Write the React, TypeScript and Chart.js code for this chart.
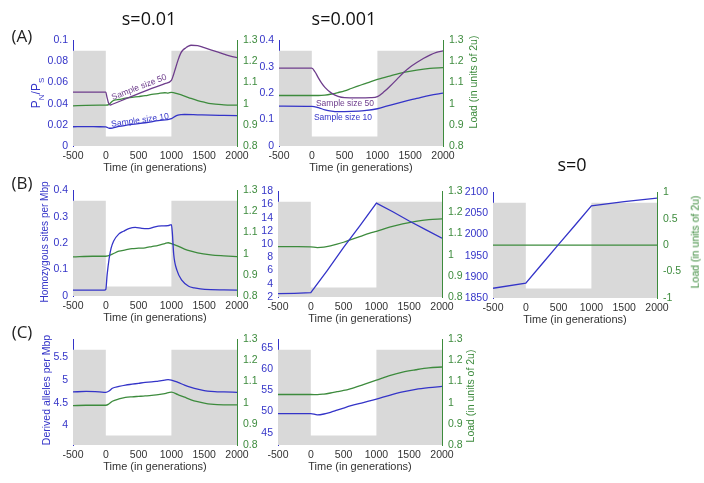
import React, { useEffect, useRef } from 'react';
import { Chart, registerables } from 'chart.js';

Chart.register(...registerables);

// ---------------- data ----------------
const timeTicks = [-500, 0, 500, 1000, 1500, 2000];
// schematic population size (grey shading): high before 0 and after 1000, bottleneck between
const popShadeT = [-500, 0, 1000, 2000];
const popShadeV = [0.9, 0.09, 0.9, 0.9];

// (A) s=0.01  P_N/P_S
const a1LeftTicks = [0, 0.02, 0.04, 0.06, 0.08, 0.1];
const a1PurpleT = [-500, 0, 15, 40, 70, 100, 300, 500, 700, 900, 1000, 1030, 1064, 1100, 1141, 1180, 1218, 1260, 1300, 1400, 1500, 1600, 1700, 1800, 1900, 2000];
const a1PurpleV = [0.051, 0.051, 0.047, 0.041, 0.0388, 0.0395, 0.0445, 0.0495, 0.0545, 0.059, 0.062, 0.067, 0.0738, 0.081, 0.0876, 0.091, 0.0928, 0.0945, 0.0953, 0.095, 0.093, 0.091, 0.089, 0.087, 0.085, 0.0835];
const a1BlueT = [-500, -300, -100, 0, 50, 100, 200, 400, 600, 800, 1000, 1050, 1100, 1150, 1200, 1400, 1600, 1800, 2000];
const a1BlueV = [0.0182, 0.0183, 0.0182, 0.0181, 0.0168, 0.017, 0.0185, 0.0205, 0.022, 0.024, 0.0258, 0.0278, 0.0292, 0.0297, 0.0298, 0.0295, 0.0292, 0.029, 0.0288];
const a1GreenT = [-500, -300, -100, 0, 50, 100, 150, 200, 300, 400, 500, 600, 700, 800, 900, 950, 1000, 1100, 1200, 1300, 1400, 1500, 1600, 1800, 2000];
const a1GreenV = [0.99, 0.992, 0.993, 0.993, 0.997, 1.012, 1.018, 1.02, 1.026, 1.03, 1.034, 1.038, 1.044, 1.048, 1.052, 1.05, 1.054, 1.046, 1.036, 1.025, 1.015, 1.007, 1.0, 0.995, 0.993];

// (A) s=0.001
const a2LeftTicks = [0, 0.1, 0.2, 0.3, 0.4];
const a2PurpleT = [-500, 0, 50, 100, 150, 200, 300, 400, 500, 700, 900, 1000, 1100, 1200, 1300, 1400, 1500, 1600, 1700, 1800, 1900, 2000];
const a2PurpleV = [0.295, 0.295, 0.28, 0.258, 0.238, 0.222, 0.2, 0.188, 0.183, 0.182, 0.183, 0.187, 0.205, 0.228, 0.253, 0.278, 0.299, 0.316, 0.331, 0.344, 0.354, 0.36];
const a2BlueT = [-500, 0, 100, 200, 300, 400, 600, 800, 1000, 1200, 1400, 1600, 1800, 2000];
const a2BlueV = [0.151, 0.15, 0.145, 0.137, 0.132, 0.13, 0.131, 0.134, 0.141, 0.155, 0.168, 0.18, 0.192, 0.2];
const a2GreenT = [-500, 0, 100, 200, 300, 400, 500, 600, 700, 800, 900, 1000, 1200, 1400, 1600, 1800, 2000];
const a2GreenV = [1.039, 1.039, 1.039, 1.041, 1.046, 1.053, 1.061, 1.072, 1.083, 1.094, 1.105, 1.115, 1.132, 1.148, 1.159, 1.167, 1.171];

// (B) homozygous sites per Mbp
const b1LeftTicks = [0, 0.1, 0.2, 0.3, 0.4];
const b1BlueT = [-500, -20, 0, 20, 50, 80, 120, 200, 270, 350, 450, 550, 650, 750, 850, 950, 1000, 1014, 1035, 1085, 1161, 1263, 1350, 1441, 1600, 1800, 2000];
const b1BlueV = [0.022, 0.022, 0.025, 0.08, 0.14, 0.18, 0.208, 0.235, 0.245, 0.255, 0.26, 0.256, 0.255, 0.262, 0.265, 0.266, 0.27, 0.24, 0.158, 0.097, 0.059, 0.037, 0.031, 0.027, 0.024, 0.023, 0.022];
const b1GreenT = [-500, -200, 0, 100, 200, 300, 400, 500, 600, 700, 800, 900, 950, 1000, 1100, 1200, 1300, 1400, 1600, 1800, 2000];
const b1GreenV = [0.985, 0.988, 0.988, 0.998, 1.012, 1.018, 1.024, 1.026, 1.028, 1.034, 1.04, 1.048, 1.052, 1.048, 1.036, 1.022, 1.012, 1.004, 0.995, 0.99, 0.986];

const b2LeftTicks = [2, 4, 6, 8, 10, 12, 14, 16, 18];
const b2BlueT = [-500, -250, 0, 250, 500, 750, 1000, 1250, 1500, 1750, 2000];
const b2BlueV = [2.5, 2.55, 2.65, 6.0, 9.5, 12.8, 16.2, 14.9, 13.5, 12.2, 10.9];
const b2GreenT = [-500, -200, 0, 100, 200, 300, 400, 500, 600, 700, 800, 900, 1000, 1200, 1400, 1600, 1800, 2000];
const b2GreenV = [1.038, 1.038, 1.037, 1.034, 1.036, 1.042, 1.05, 1.059, 1.07, 1.081, 1.092, 1.102, 1.111, 1.13, 1.146, 1.158, 1.166, 1.17];

const b3LeftTicks = [1850, 1900, 1950, 2000, 2050, 2100];
const b3RightTicks = [-1, -0.5, 0, 0.5, 1];
const b3BlueT = [-500, 0, 250, 500, 750, 1000, 1500, 2000];
const b3BlueV = [1873, 1885, 1931, 1977, 2022, 2068, 2078, 2086];
const b3GreenT = [-500, 2000];
const b3GreenV = [0, 0];

// (C) derived alleles per Mbp
const c1LeftTicks = [4, 4.5, 5, 5.5];
const c1BlueT = [-500, -300, -100, 0, 50, 100, 200, 300, 400, 500, 600, 700, 800, 900, 950, 1000, 1100, 1200, 1300, 1400, 1500, 1600, 1700, 1800, 2000];
const c1BlueV = [4.74, 4.75, 4.74, 4.73, 4.76, 4.82, 4.86, 4.89, 4.91, 4.93, 4.95, 4.96, 4.98, 5.0, 5.01, 5.0, 4.95, 4.89, 4.84, 4.8, 4.77, 4.75, 4.74, 4.74, 4.73];
const c1GreenT = [-500, -300, 0, 50, 100, 200, 300, 400, 500, 600, 700, 800, 900, 1000, 1100, 1200, 1300, 1400, 1500, 1600, 1800, 2000];
const c1GreenV = [0.986, 0.988, 0.988, 0.995, 1.007, 1.018, 1.025, 1.028, 1.03, 1.032, 1.035, 1.038, 1.043, 1.05, 1.038, 1.026, 1.014, 1.005, 0.998, 0.993, 0.99, 0.99];

const c2LeftTicks = [45, 50, 55, 60, 65];
const c2BlueT = [-500, 0, 100, 200, 300, 400, 500, 600, 800, 1000, 1200, 1400, 1600, 1800, 2000];
const c2BlueV = [49.5, 49.5, 49.2, 49.4, 49.8, 50.3, 50.8, 51.3, 52.1, 52.9, 53.8, 54.6, 55.2, 55.6, 55.9];
const c2GreenT = [-500, 0, 100, 200, 300, 400, 500, 600, 800, 1000, 1200, 1400, 1600, 1800, 2000];
const c2GreenV = [1.039, 1.039, 1.038, 1.041, 1.046, 1.052, 1.058, 1.066, 1.086, 1.107, 1.128, 1.145, 1.156, 1.165, 1.169];

const loadTicks = [0.8, 0.9, 1, 1.1, 1.2, 1.3];

// ---------------- styles / layout ----------------
const BLUE = '#3434c8';
const PURPLE = '#6e3d8c';
const GREEN = '#3d8b3d';
const GREY = '#d9d9d9';
const TEXT = '#333333';
const FONT = "'Liberation Sans', Arial, sans-serif";
const TITLE_FONT = "'Open Sans', 'Noto Sans', sans-serif";

const PLOT_W = 164;
const PLOT_H = 108;
const LW = 40;
const RW = 36;
const TP = 10;
const BH = 31;

type Series = { t: number[]; v: number[]; color: string; axis: 'y' | 'y2'; order: number; straight?: boolean };
type PanelSpec = {
  left: number;
  top: number;
  yMin: number;
  yMax: number;
  yTicks: number[];
  y2Min: number;
  y2Max: number;
  y2Ticks: number[];
  series: Series[];
};

const pts = (t: number[], v: number[]) => t.map((x, i) => ({ x, y: v[i] }));
const fmt = (v: number) => String(Number(Number(v).toFixed(4)));

const panels: PanelSpec[] = [
  {
    left: 73, top: 38, yMin: 0, yMax: 0.1, yTicks: a1LeftTicks, y2Min: 0.8, y2Max: 1.3, y2Ticks: loadTicks,
    series: [
      { t: a1GreenT, v: a1GreenV, color: GREEN, axis: 'y2', order: 3 },
      { t: a1BlueT, v: a1BlueV, color: BLUE, axis: 'y', order: 2 },
      { t: a1PurpleT, v: a1PurpleV, color: PURPLE, axis: 'y', order: 1 },
    ],
  },
  {
    left: 279, top: 38, yMin: 0, yMax: 0.4, yTicks: a2LeftTicks, y2Min: 0.8, y2Max: 1.3, y2Ticks: loadTicks,
    series: [
      { t: a2GreenT, v: a2GreenV, color: GREEN, axis: 'y2', order: 3 },
      { t: a2BlueT, v: a2BlueV, color: BLUE, axis: 'y', order: 2 },
      { t: a2PurpleT, v: a2PurpleV, color: PURPLE, axis: 'y', order: 1 },
    ],
  },
  {
    left: 73, top: 188, yMin: 0, yMax: 0.4, yTicks: b1LeftTicks, y2Min: 0.8, y2Max: 1.3, y2Ticks: loadTicks,
    series: [
      { t: b1GreenT, v: b1GreenV, color: GREEN, axis: 'y2', order: 3 },
      { t: b1BlueT, v: b1BlueV, color: BLUE, axis: 'y', order: 2 },
    ],
  },
  {
    left: 278, top: 189, yMin: 2, yMax: 18, yTicks: b2LeftTicks, y2Min: 0.8, y2Max: 1.3, y2Ticks: loadTicks,
    series: [
      { t: b2GreenT, v: b2GreenV, color: GREEN, axis: 'y2', order: 3 },
      { t: b2BlueT, v: b2BlueV, color: BLUE, axis: 'y', order: 2, straight: true },
    ],
  },
  {
    left: 493, top: 190, yMin: 1850, yMax: 2100, yTicks: b3LeftTicks, y2Min: -1, y2Max: 1, y2Ticks: b3RightTicks,
    series: [
      { t: b3GreenT, v: b3GreenV, color: GREEN, axis: 'y2', order: 3, straight: true },
      { t: b3BlueT, v: b3BlueV, color: BLUE, axis: 'y', order: 2, straight: true },
    ],
  },
  {
    left: 73, top: 337, yMin: 3.57, yMax: 5.9, yTicks: c1LeftTicks, y2Min: 0.8, y2Max: 1.3, y2Ticks: loadTicks,
    series: [
      { t: c1GreenT, v: c1GreenV, color: GREEN, axis: 'y2', order: 3 },
      { t: c1BlueT, v: c1BlueV, color: BLUE, axis: 'y', order: 2 },
    ],
  },
  {
    left: 278, top: 337, yMin: 42.1, yMax: 67, yTicks: c2LeftTicks, y2Min: 0.8, y2Max: 1.3, y2Ticks: loadTicks,
    series: [
      { t: c2GreenT, v: c2GreenV, color: GREEN, axis: 'y2', order: 3 },
      { t: c2BlueT, v: c2BlueV, color: BLUE, axis: 'y', order: 2 },
    ],
  },
];

function buildConfig(spec: PanelSpec): any {
  const datasets: any[] = [
    {
      data: pts(popShadeT, popShadeV),
      yAxisID: 'bg',
      stepped: true,
      fill: 'start',
      backgroundColor: GREY,
      borderWidth: 0,
      borderColor: 'rgba(0,0,0,0)',
      pointRadius: 0,
      order: 10,
    },
    ...spec.series.map((s) => ({
      data: pts(s.t, s.v),
      yAxisID: s.axis,
      borderColor: s.color,
      borderWidth: 1.3,
      pointRadius: 0,
      fill: false,
      cubicInterpolationMode: s.straight ? 'default' : 'monotone',
      tension: s.straight ? 0 : 0.4,
      order: s.order,
    })),
  ];
  const tickFont = { size: 10.5, family: FONT };
  return {
    type: 'line',
    data: { datasets },
    options: {
      animation: false,
      responsive: false,
      maintainAspectRatio: false,
      layout: { padding: { top: TP, left: 0, right: 0, bottom: 0 } },
      plugins: { legend: { display: false }, tooltip: { enabled: false } },
      scales: {
        x: {
          type: 'linear',
          min: -500,
          max: 2000,
          grid: { display: false, drawTicks: false },
          border: { display: false },
          afterBuildTicks: (s: any) => { s.ticks = timeTicks.map((value) => ({ value })); },
          afterFit: (s: any) => { s.height = BH; },
          ticks: { color: TEXT, font: tickFont, padding: 4, autoSkip: false, maxRotation: 0, callback: (v: any) => fmt(v) },
          title: { display: true, text: 'Time (in generations)', color: TEXT, font: { size: 11, family: FONT }, padding: { top: 0, bottom: 2 } },
        },
        y: {
          type: 'linear',
          position: 'left',
          min: spec.yMin,
          max: spec.yMax,
          grid: { display: false, drawTicks: false },
          border: { display: true, color: BLUE, width: 1 },
          afterBuildTicks: (s: any) => { s.ticks = spec.yTicks.map((value) => ({ value })); },
          afterFit: (s: any) => { s.width = LW; },
          ticks: { color: BLUE, font: tickFont, padding: 5, autoSkip: false, callback: (v: any) => fmt(v) },
        },
        y2: {
          type: 'linear',
          position: 'right',
          min: spec.y2Min,
          max: spec.y2Max,
          grid: { display: false, drawTicks: false },
          border: { display: true, color: GREEN, width: 1 },
          afterBuildTicks: (s: any) => { s.ticks = spec.y2Ticks.map((value) => ({ value })); },
          afterFit: (s: any) => { s.width = RW; },
          ticks: { color: GREEN, font: tickFont, padding: 6, autoSkip: false, callback: (v: any) => fmt(v) },
        },
        bg: { type: 'linear', display: false, min: 0, max: 1 },
      },
    },
  };
}

function Panel({ spec }: { spec: PanelSpec }) {
  const ref = useRef<HTMLCanvasElement>(null);
  useEffect(() => {
    const chart = new Chart(ref.current as HTMLCanvasElement, buildConfig(spec));
    return () => chart.destroy();
  }, [spec]);
  const w = PLOT_W + LW + RW;
  const h = PLOT_H + TP + BH;
  return (
    <canvas
      ref={ref}
      width={w}
      height={h}
      style={{ position: 'absolute', left: spec.left - LW, top: spec.top - TP, width: w, height: h }}
    />
  );
}

function Txt(props: { x: number; y: number; size: number; color: string; rot?: number; family?: string; children: React.ReactNode }) {
  const { x, y, size, color, rot = 0, family = FONT, children } = props;
  return (
    <div
      style={{
        position: 'absolute',
        left: x,
        top: y,
        transform: `translate(-50%, -50%) rotate(${rot}deg)`,
        fontSize: size,
        color,
        fontFamily: family,
        whiteSpace: 'nowrap',
        lineHeight: 1,
      }}
    >
      {children}
    </div>
  );
}

export default function App() {
  return (
    <div style={{ position: 'fixed', left: 0, top: 0, width: 704, height: 483, background: '#fff', overflow: 'hidden' }}>
      {panels.map((p, i) => (
        <Panel key={i} spec={p} />
      ))}
      <Txt x={149} y={18} size={18} color="#111" family={TITLE_FONT}>s=0.01</Txt>
      <Txt x={344} y={18} size={18} color="#111" family={TITLE_FONT}>s=0.001</Txt>
      <Txt x={572} y={164} size={18} color="#111" family={TITLE_FONT}>s=0</Txt>
      <Txt x={22} y={35} size={17} color="#222" family={TITLE_FONT}>(A)</Txt>
      <Txt x={22} y={182} size={17} color="#222" family={TITLE_FONT}>(B)</Txt>
      <Txt x={22} y={331} size={17} color="#222" family={TITLE_FONT}>(C)</Txt>
      <Txt x={38} y={93} size={12} color={BLUE} rot={-90}>
        <span>P<sub style={{ fontSize: 8 }}>N</sub>/P<sub style={{ fontSize: 8 }}>S</sub></span>
      </Txt>
      <Txt x={45} y={242} size={10} color={BLUE} rot={-90}>Homozygous sites per Mbp</Txt>
      <Txt x={46} y={390} size={10.5} color={BLUE} rot={-90}>Derived alleles per Mbp</Txt>
      <Txt x={473} y={82} size={10.5} color={GREEN} rot={-90}>Load (in units of 2u)</Txt>
      <Txt x={695} y={242} size={10.5} color={GREEN} rot={-90}>Load (in units of 2u)</Txt>
      <Txt x={470} y={396} size={10.5} color={GREEN} rot={-90}>Load (in units of 2u)</Txt>
      <Txt x={139} y={87} size={8.5} color={PURPLE} rot={-21}>Sample size 50</Txt>
      <Txt x={140} y={120} size={8.5} color={BLUE} rot={-8}>Sample size 10</Txt>
      <Txt x={345} y={103} size={8.5} color={PURPLE}>Sample size 50</Txt>
      <Txt x={343} y={117} size={8.5} color={BLUE}>Sample size 10</Txt>
    </div>
  );
}
